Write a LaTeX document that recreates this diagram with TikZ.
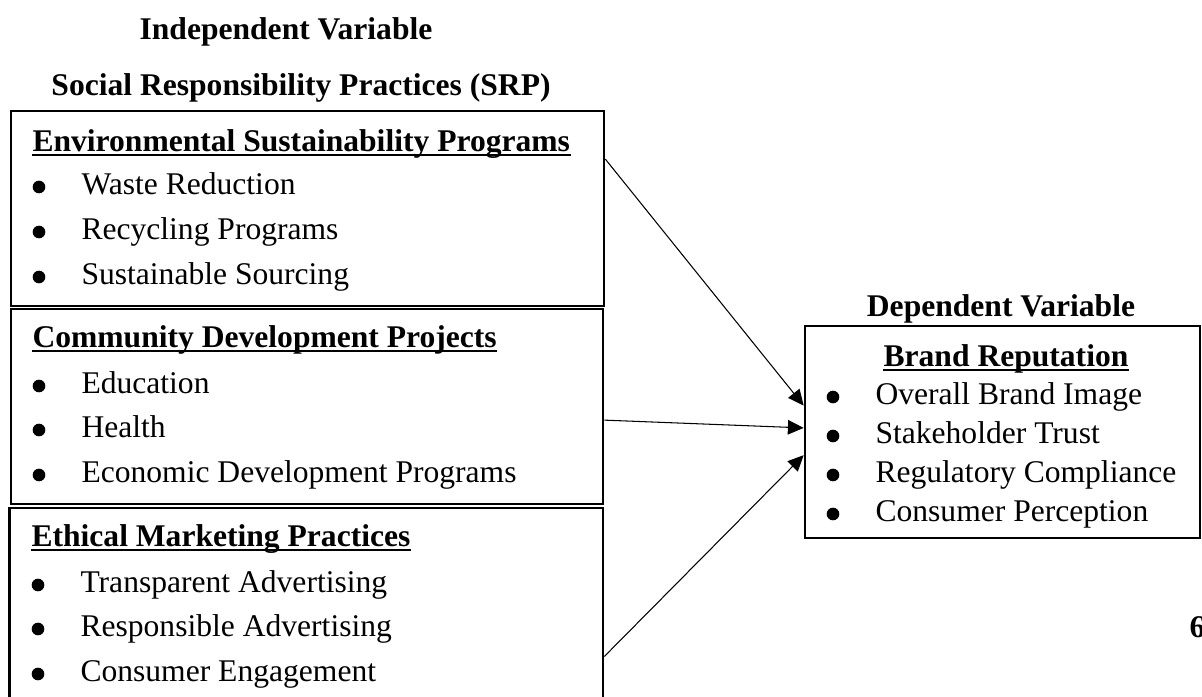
\documentclass[tikz,border=0pt,12pt]{standalone}
\usepackage{fontspec}
\setmainfont{Liberation Serif}
\usetikzlibrary{arrows.meta,calc,fit}

\tikzset{
  varbox/.style={draw, line width=1pt, inner sep=0pt},
  title/.style={anchor=base, inner sep=0pt, font=\bfseries},
  head/.style={anchor=base west, inner sep=0pt, font=\bfseries},
  dot/.style={circle, fill, inner sep=0pt, minimum size=4.8pt},
  item/.style={anchor=base west, inner sep=0pt},
  uline/.style={line width=0.8pt},
  link/.style={-{Triangle[length=6pt,width=5.5pt]}, line width=0.4pt},
}
% underline a heading node
\newcommand{\headline}[1]{\draw[uline] ([yshift=-1.3pt]#1.base west) -- ([yshift=-1.3pt]#1.base east);}

\begin{document}
\begin{tikzpicture}[x=0.38pt,y=-0.38pt]
\useasboundingbox (0,0) rectangle (1202,697);
\clip (0,0) rectangle (1202,697);

% titles
\node[title] (indep) at (286,40) {Independent Variable};
\node[title] (srp) at (301,96) {Social Responsibility Practices (SRP)};
\node[title] (dep) at (1001,317) {Dependent Variable};

% boxes
\node[varbox, fit={(11,111) (604,306)}] (env) {};
\node[varbox, fit={(11,309) (603,504)}] (comm) {};
\node[varbox, fit={(9.5,508) (603,712)}] (eth) {};
\node[varbox, fit={(805,326) (1200,538)}] (brand) {};

% environmental sustainability
\node[head] (envhead) at (32,152) {Environmental Sustainability Programs};
\headline{envhead}
\node[dot] (envb1) at (39,187) {};
\node[dot] (envb2) at (39,232) {};
\node[dot] (envb3) at (39,277) {};
\node[item] (env1) at (81,195) {Waste Reduction};
\node[item] (env2) at (81,240) {Recycling Programs};
\node[item] (env3) at (81,285) {Sustainable Sourcing};

% community development
\node[head] (commhead) at (32,348) {Community Development Projects};
\headline{commhead}
\node[dot] (commb1) at (39,386) {};
\node[dot] (commb2) at (39,430) {};
\node[dot] (commb3) at (39,475) {};
\node[item] (comm1) at (81,394) {Education};
\node[item] (comm2) at (81,438) {Health};
\node[item] (comm3) at (81,483) {Economic Development Programs};

% ethical marketing
\node[head] (ethhead) at (31,547) {Ethical Marketing Practices};
\headline{ethhead}
\node[dot] (ethb1) at (38,585) {};
\node[dot] (ethb2) at (38,629) {};
\node[dot] (ethb3) at (38,674) {};
\node[item] (eth1) at (80,593) {Transparent Advertising};
\node[item] (eth2) at (80,637) {Responsible Advertising};
\node[item] (eth3) at (80,682) {Consumer Engagement};

% brand reputation
\node[title] (brandhead) at (1006,367) {Brand Reputation};
\headline{brandhead}
\node[dot] (brandb1) at (833,397) {};
\node[dot] (brandb2) at (833,436) {};
\node[dot] (brandb3) at (833,475) {};
\node[dot] (brandb4) at (833,514) {};
\node[item] (brand1) at (875,405) {Overall Brand Image};
\node[item] (brand2) at (875,444) {Stakeholder Trust};
\node[item] (brand3) at (875,483) {Regulatory Compliance};
\node[item] (brand4) at (875,522) {Consumer Perception};

% page number
\node[head] (page) at (1189,638) {6};

% links
\draw[link] ($(env.north east)!0.25!(env.south east)$) -- ($(brand.north west)!0.377!(brand.south west)$);
\draw[link] ($(comm.north east)!0.569!(comm.south east)$) -- ($(brand.north west)!0.481!(brand.south west)$);
\draw[link] ($(eth.north east)!0.725!(eth.south east)$) -- ($(brand.north west)!0.608!(brand.south west)$);
\end{tikzpicture}
\end{document}
